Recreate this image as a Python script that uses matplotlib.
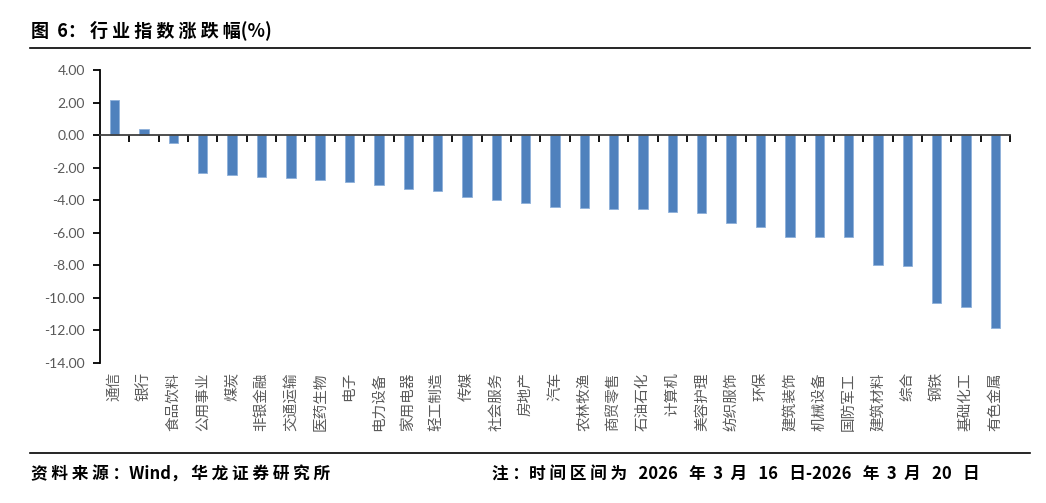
import numpy as np
import matplotlib.pyplot as plt

plt.rcParams['font.family'] = ['Noto Sans CJK SC', 'DejaVu Sans']

# 行业指数涨跌幅(%)
industries = ['通信', '银行', '食品饮料', '公用事业', '煤炭', '非银金融', '交通运输', '医药生物',
              '电子', '电力设备', '家用电器', '轻工制造', '传媒', '社会服务', '房地产', '汽车',
              '农林牧渔', '商贸零售', '石油石化', '计算机', '美容护理', '纺织服饰', '环保',
              '建筑装饰', '机械设备', '国防军工', '建筑材料', '综合', '钢铁', '基础化工', '有色金属']
changes = [2.15, 0.37, -0.49, -2.36, -2.46, -2.56, -2.67, -2.77,
           -2.87, -3.10, -3.30, -3.47, -3.79, -4.00, -4.21, -4.41,
           -4.51, -4.58, -4.57, -4.74, -4.80, -5.44, -5.64,
           -6.28, -6.28, -6.29, -7.98, -8.04, -10.32, -10.58, -11.86]
yticks = [4, 2, 0, -2, -4, -6, -8, -10, -12, -14]

fig = plt.figure(figsize=(10.46, 5.03), dpi=100)
ax = fig.add_axes([0.0956, 0.2793, 0.87, 0.5815])

x = np.arange(len(industries))
ax.bar(x, changes, width=0.32, color='#4F81BD', edgecolor='#8EB0DA', linewidth=0.6, zorder=2)

ax.set_xlim(-0.5, len(industries) - 0.5)
ax.set_ylim(-14, 4)
ax.set_yticks(yticks, [f'{v:.2f}' for v in yticks])

for s in ['top', 'right']:
    ax.spines[s].set_visible(False)
ax.spines['left'].set_color('black')
ax.spines['left'].set_linewidth(1.3)
ax.spines['bottom'].set_position(('data', 0))
ax.spines['bottom'].set_color('#404040')
ax.spines['bottom'].set_linewidth(1.3)
ax.spines['bottom'].set_zorder(3)

ax.set_xticks(x[:-1] + 0.5)
ax.set_xticks([len(industries) - 0.5], minor=True)
ax.tick_params(axis='x', which='both', length=5, width=1.3, color='black', labelbottom=False)
ax.tick_params(axis='y', length=5, width=1.3, color='black', labelcolor='#595959', labelsize=10, pad=6)
for lab in ax.get_yticklabels():
    lab.set_family(['Lato', 'DejaVu Sans'])

for i, name in enumerate(industries):
    ax.annotate(name, xy=(i, 0), xycoords=('data', 'axes fraction'), xytext=(0, -7),
                textcoords='offset points', rotation=90, ha='center', va='top',
                fontsize=10.5, color='#5A5A5A')

# 标题与页脚（原图字距较宽，用空格拉开）
fig.text(31 / 1046, 1 - 30 / 503, '图  6： 行 业 指 数 涨 跌 幅(%)', fontsize=13, fontweight='bold',
         va='center', ha='left', color='black')
fig.add_artist(plt.Line2D([30 / 1046, 1030 / 1046], [1 - 47.5 / 503] * 2, color='black', linewidth=1.2))
fig.add_artist(plt.Line2D([30 / 1046, 1030 / 1046], [1 - 453 / 503] * 2, color='black', linewidth=1.2))
fig.text(31 / 1046, 1 - 475 / 503, '资 料 来 源 ：Wind， 华 龙 证 券 研 究 所', fontsize=12,
         fontweight='bold', va='center', ha='left', color='black')
fig.text(492 / 1046, 1 - 475 / 503, '注 ：时 间 区 间 为   2026   年  3  月   16   日-2026   年  3  月   20   日',
         fontsize=12, fontweight='bold', va='center', ha='left', color='black')

fig.savefig('out.png', dpi=100)
